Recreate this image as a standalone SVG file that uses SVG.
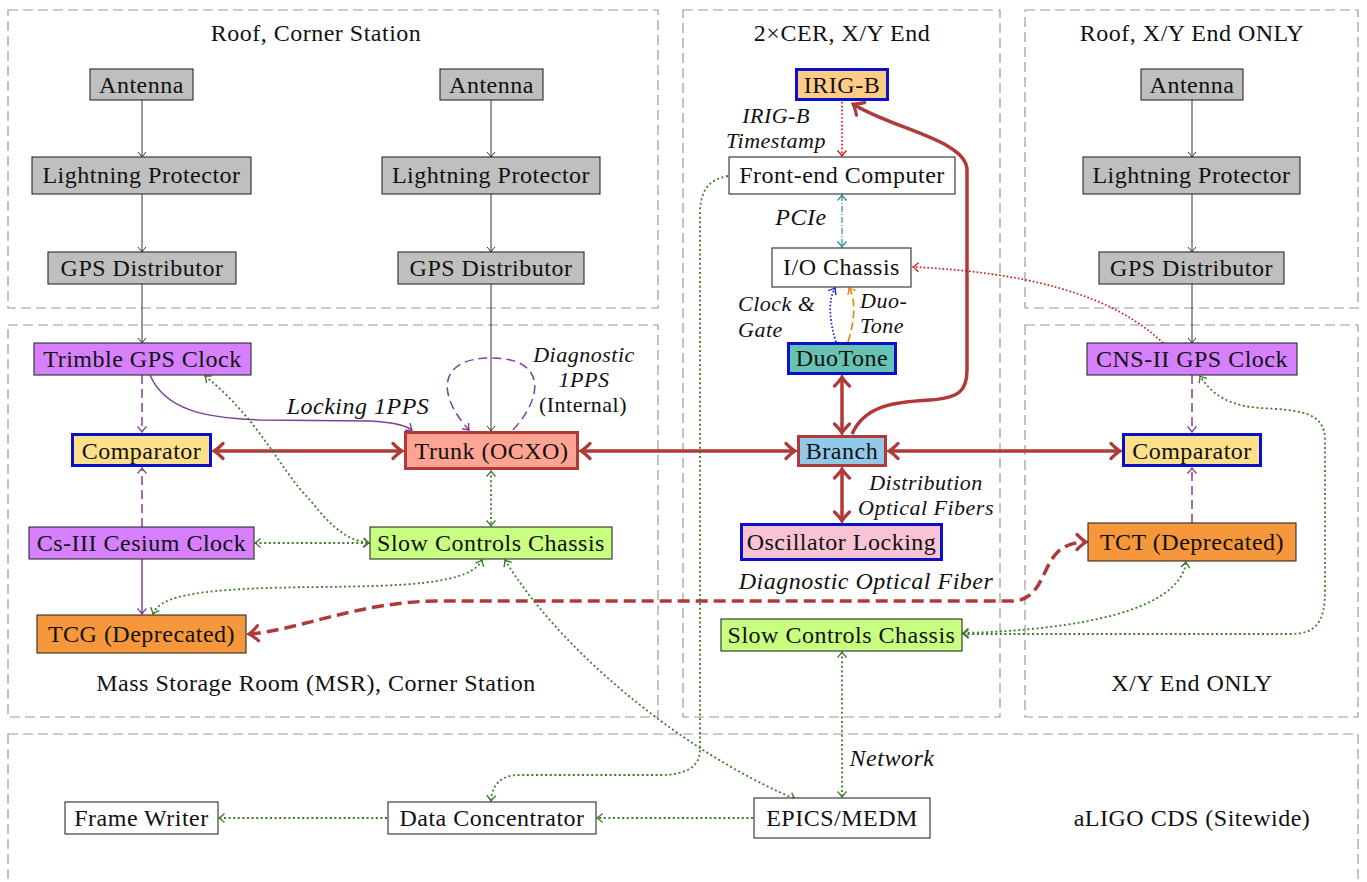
<svg xmlns="http://www.w3.org/2000/svg" width="1367" height="882" viewBox="0 0 1367 882">
<style>
.reg{fill:none;stroke:#9a9a9a;stroke-width:1.2;stroke-dasharray:10 5}
.t{font-family:"Liberation Serif","Times New Roman",serif;font-size:24px;letter-spacing:0.5px;fill:#111;text-anchor:middle}
.m{font-size:22px}
.i{font-style:italic}
.st{text-anchor:start}
.nb{stroke:#2a2a2a;stroke-width:1.1}
.tb{stroke:#0a10c8;stroke-width:3}
.tr{stroke:#b03a3a;stroke-width:3}
.gray{fill:#bfbfbf}
.purp{fill:#d680ff}
.yel{fill:#ffe08a}
.sal{fill:#ffa392}
.grn{fill:#c8ff80}
.org{fill:#f5973a}
.wht{fill:#ffffff}
.irg{fill:#ffcc88}
.duo{fill:#66c2b2}
.blu{fill:#92c8e8}
.pnk{fill:#f8c4d4}
.k{fill:none;stroke:#333;stroke-width:1;marker-end:url(#mk)}
.p{fill:none;stroke:#7e3f9a;stroke-width:1.5}
.pd{stroke-dasharray:9 5}
.r{fill:none;stroke:#b03a3a;stroke-width:3.5}
.g{fill:none;stroke:#3c7d2c;stroke-width:1.8;stroke-dasharray:2 2.6}
.gb{marker-start:url(#mg);marker-end:url(#mg)}
.ge{marker-end:url(#mg)}
</style>
<defs>
<marker id="mk" viewBox="-8 -6 10 12" refX="0" refY="0" markerWidth="10" markerHeight="12" markerUnits="userSpaceOnUse" orient="auto-start-reverse"><path d="M-5,-4 Q-1.5,-0.8 0,0 Q-1.5,0.8 -5,4" fill="none" stroke="#333" stroke-width="1"/></marker>
<marker id="mp" viewBox="-8 -6 10 12" refX="0" refY="0" markerWidth="10" markerHeight="12" markerUnits="userSpaceOnUse" orient="auto-start-reverse"><path d="M-5.5,-4.5 Q-1.5,-0.8 0,0 Q-1.5,0.8 -5.5,4.5" fill="none" stroke="#7e3f9a" stroke-width="1.4"/></marker>
<marker id="mg" viewBox="-8 -6 10 12" refX="0" refY="0" markerWidth="10" markerHeight="12" markerUnits="userSpaceOnUse" orient="auto-start-reverse"><path d="M-5.5,-4.5 Q-1.5,-0.8 0,0 Q-1.5,0.8 -5.5,4.5" fill="none" stroke="#3c7d2c" stroke-width="1.4"/></marker>
<marker id="mrd" viewBox="-8 -6 10 12" refX="0" refY="0" markerWidth="10" markerHeight="12" markerUnits="userSpaceOnUse" orient="auto-start-reverse"><path d="M-5.5,-4.5 Q-1.5,-0.8 0,0 Q-1.5,0.8 -5.5,4.5" fill="none" stroke="#e01010" stroke-width="1.4"/></marker>
<marker id="mb" viewBox="-8 -6 10 12" refX="0" refY="0" markerWidth="10" markerHeight="12" markerUnits="userSpaceOnUse" orient="auto-start-reverse"><path d="M-5.5,-4.5 Q-1.5,-0.8 0,0 Q-1.5,0.8 -5.5,4.5" fill="none" stroke="#1020d0" stroke-width="1.4"/></marker>
<marker id="mo" viewBox="-8 -6 10 12" refX="0" refY="0" markerWidth="10" markerHeight="12" markerUnits="userSpaceOnUse" orient="auto-start-reverse"><path d="M-5.5,-4.5 Q-1.5,-0.8 0,0 Q-1.5,0.8 -5.5,4.5" fill="none" stroke="#e08a10" stroke-width="1.4"/></marker>
<marker id="mt" viewBox="-8 -6 10 12" refX="0" refY="0" markerWidth="10" markerHeight="12" markerUnits="userSpaceOnUse" orient="auto-start-reverse"><path d="M-5.5,-4.5 Q-1.5,-0.8 0,0 Q-1.5,0.8 -5.5,4.5" fill="none" stroke="#2a9090" stroke-width="1.4"/></marker>
<marker id="mr" viewBox="-12 -10 14 20" refX="0" refY="0" markerWidth="14" markerHeight="20" markerUnits="userSpaceOnUse" orient="auto-start-reverse"><path d="M-9,-7.5 Q-3,-1.5 0,0 Q-3,1.5 -9,7.5" fill="none" stroke="#b03a3a" stroke-width="3.2" stroke-linecap="round"/></marker>
</defs>

<g id="regions">
<rect class="reg" x="8" y="10" width="650" height="298"/>
<rect class="reg" x="8" y="325" width="650" height="392"/>
<rect class="reg" x="683" y="10" width="317" height="707"/>
<rect class="reg" x="1025" y="10" width="333" height="298"/>
<rect class="reg" x="1025" y="325" width="333" height="392"/>
<rect class="reg" x="8" y="734" width="1350" height="170"/>
<text class="t" x="316" y="41">Roof, Corner Station</text>
<text class="t" x="842" y="41">2×CER, X/Y End</text>
<text class="t" x="1192" y="41">Roof, X/Y End ONLY</text>
<text class="t" x="316" y="691">Mass Storage Room (MSR), Corner Station</text>
<text class="t" x="1192" y="691">X/Y End ONLY</text>
<text class="t" x="1192" y="826">aLIGO CDS (Sitewide)</text>
</g>

<g id="connectors">
<path class="k" d="M142,100 V157"/>
<path class="k" d="M142,194 V252"/>
<path class="k" d="M142,284 V343"/>
<path class="k" d="M491,100 V157"/>
<path class="k" d="M491,194 V252"/>
<path class="k" d="M491,284 V431"/>
<path class="k" d="M1192,100 V157"/>
<path class="k" d="M1192,194 V252"/>
<path class="k" d="M1192,284 V343"/>

<path class="p pd" d="M142,375 V432" marker-end="url(#mp)"/>
<path class="p pd" d="M142,527 V468" marker-end="url(#mp)"/>
<path class="p" d="M142,559 V614" marker-end="url(#mp)"/>
<path class="p" d="M150,375 C165,410 205,418 260,420 L370,421 C390,422 405,425 412,430" marker-end="url(#mp)"/>
<path class="p pd" d="M513,430 C545,395 545,358 491,358 C437,358 437,395 469,430" marker-end="url(#mp)"/>
<path class="p pd" d="M1192,375 V432" marker-end="url(#mp)"/>
<path class="p pd" d="M1192,523 V468" marker-end="url(#mp)"/>

<path class="r" d="M214,451 H402" marker-start="url(#mr)" marker-end="url(#mr)"/>
<path class="r" d="M581,451 H795" marker-start="url(#mr)" marker-end="url(#mr)"/>
<path class="r" d="M889,451 H1120" marker-start="url(#mr)" marker-end="url(#mr)"/>
<path class="r" d="M842,377 V433" marker-start="url(#mr)" marker-end="url(#mr)"/>
<path class="r" d="M842,469 V521" marker-start="url(#mr)" marker-end="url(#mr)"/>
<path class="r" d="M852,434 C865,405 895,402 930,400 C960,398 967,390 967,370 L967,170 C967,140 890,128 853,104" marker-end="url(#mr)"/>
<path class="r" d="M249,634 C300,630 360,601 440,601 L1012,601 C1040,601 1042,570 1055,555 C1063,545 1075,542 1086,542" stroke-dasharray="12 6" marker-start="url(#mr)" marker-end="url(#mr)"/>

<path d="M842,102 V156" fill="none" stroke="#e01010" stroke-width="1.7" stroke-dasharray="1.6 2.2" marker-end="url(#mrd)"/>
<path d="M1163,343 C1110,292 1020,272 913,267" fill="none" stroke="#e01010" stroke-width="1.7" stroke-dasharray="1.6 2.2" marker-end="url(#mrd)"/>
<path d="M842,195 V247" fill="none" stroke="#2a9090" stroke-width="1.2" stroke-dasharray="6 2 1 2" marker-start="url(#mt)" marker-end="url(#mt)"/>
<path d="M836,342 C829,320 828,300 835,288" fill="none" stroke="#1020d0" stroke-width="1.7" stroke-dasharray="1.6 2" marker-end="url(#mb)"/>
<path d="M848,342 C855,320 856,300 849,288" fill="none" stroke="#e08a10" stroke-width="1.7" stroke-dasharray="8 4" marker-end="url(#mo)"/>

<path class="g gb" d="M205,376 C260,420 280,470 310,500 C330,525 345,540 369,543"/>
<path class="g gb" d="M255,543 H369"/>
<path class="g gb" d="M491,471 V526"/>
<path class="g gb" d="M482,560 C470,585 400,586 320,587 C200,588 160,595 153,614"/>
<path class="g gb" d="M505,560 C560,650 680,750 795,799"/>
<path class="g gb" d="M842,652 V797"/>
<path class="g gb" d="M963,633 C1080,630 1180,610 1186,562"/>
<path class="g gb" d="M963,634 L1290,634 C1318,634 1325,620 1325,590 L1325,440 C1325,412 1300,410 1260,408 C1230,406 1212,395 1200,376"/>
<path class="g ge" d="M728,176 C705,180 700,195 700,215 L700,750 C700,770 680,775 660,775 L520,775 C500,775 492,785 491,801"/>
<path class="g ge" d="M753,818 H597"/>
<path class="g ge" d="M387,818 H219"/>

<text class="t i" x="358" y="414">Locking 1PPS</text>
<text class="t m i" x="584" y="362">Diagnostic</text>
<text class="t m i" x="584" y="387">1PPS</text>
<text class="t m" x="583" y="412">(Internal)</text>
<text class="t m i" x="776" y="123">IRIG-B</text>
<text class="t m i" x="776" y="148">Timestamp</text>
<text class="t i" x="801" y="225">PCIe</text>
<text class="t m i st" x="738" y="311">Clock &amp;</text>
<text class="t m i st" x="738" y="337">Gate</text>
<text class="t m i st" x="860" y="308">Duo-</text>
<text class="t m i st" x="860" y="333">Tone</text>
<text class="t m i" x="926" y="490">Distribution</text>
<text class="t m i" x="926" y="515">Optical Fibers</text>
<text class="t i" x="866" y="589">Diagnostic Optical Fiber</text>
<text class="t i" x="892" y="766">Network</text>
</g>

<g id="antenna-cs-1"><rect class="nb gray" x="90" y="69" width="103" height="31"/><text class="t" x="141.5" y="93">Antenna</text></g>
<g id="lp-cs-1"><rect class="nb gray" x="32" y="157" width="219" height="37"/><text class="t" x="141.5" y="183">Lightning Protector</text></g>
<g id="gpsdist-cs-1"><rect class="nb gray" x="48" y="252" width="188" height="32"/><text class="t" x="142" y="276">GPS Distributor</text></g>
<g id="antenna-cs-2"><rect class="nb gray" x="440" y="69" width="103" height="31"/><text class="t" x="491.5" y="93">Antenna</text></g>
<g id="lp-cs-2"><rect class="nb gray" x="382" y="157" width="218" height="37"/><text class="t" x="491" y="183">Lightning Protector</text></g>
<g id="gpsdist-cs-2"><rect class="nb gray" x="398" y="252" width="186" height="32"/><text class="t" x="491" y="276">GPS Distributor</text></g>
<g id="antenna-end"><rect class="nb gray" x="1141" y="69" width="102" height="31"/><text class="t" x="1192" y="93">Antenna</text></g>
<g id="lp-end"><rect class="nb gray" x="1083" y="157" width="217" height="37"/><text class="t" x="1191.5" y="183">Lightning Protector</text></g>
<g id="gpsdist-end"><rect class="nb gray" x="1099" y="252" width="185" height="32"/><text class="t" x="1191.5" y="276">GPS Distributor</text></g>

<g id="trimble"><rect class="nb purp" x="34" y="343" width="217" height="32"/><text class="t" x="142.5" y="367">Trimble GPS Clock</text></g>
<g id="comparator-cs"><rect class="tb yel" x="72.5" y="434.5" width="138" height="31"/><text class="t" x="141.5" y="459">Comparator</text></g>
<g id="cesium"><rect class="nb purp" x="29" y="527" width="225" height="32"/><text class="t" x="141.5" y="551">Cs-III Cesium Clock</text></g>
<g id="tcg"><rect class="nb org" x="37" y="615" width="209" height="38"/><text class="t" x="141.5" y="642">TCG (Deprecated)</text></g>
<g id="trunk"><rect class="tr sal" x="405.5" y="432.5" width="172" height="36"/><text class="t" x="491.5" y="459">Trunk (OCXO)</text></g>
<g id="slow-controls-cs"><rect class="nb grn" x="370" y="527" width="242" height="32"/><text class="t" x="491" y="551">Slow Controls Chassis</text></g>

<g id="irig-b"><rect class="tb irg" x="796.5" y="69.5" width="91" height="30"/><text class="t" x="842" y="93">IRIG-B</text></g>
<g id="front-end"><rect class="nb wht" x="729" y="157" width="226" height="37"/><text class="t" x="842" y="183">Front-end Computer</text></g>
<g id="io-chassis"><rect class="nb wht" x="772" y="248" width="139" height="39"/><text class="t" x="841.5" y="275">I/O Chassis</text></g>
<g id="duotone"><rect class="tb duo" x="788.5" y="343.5" width="107" height="30"/><text class="t" x="842" y="366">DuoTone</text></g>
<g id="branch"><rect class="tr blu" x="798.5" y="436.5" width="87" height="29"/><text class="t" x="842" y="459">Branch</text></g>
<g id="osc-locking"><rect class="tb pnk" x="741.5" y="524.5" width="200" height="35"/><text class="t" x="841.5" y="550">Oscillator Locking</text></g>
<g id="slow-controls-end"><rect class="nb grn" x="721" y="619" width="241" height="32"/><text class="t" x="841.5" y="643">Slow Controls Chassis</text></g>

<g id="cns"><rect class="nb purp" x="1087" y="343" width="210" height="32"/><text class="t" x="1192" y="367">CNS-II GPS Clock</text></g>
<g id="comparator-end"><rect class="tb yel" x="1123.5" y="434.5" width="137" height="31"/><text class="t" x="1192" y="459">Comparator</text></g>
<g id="tct"><rect class="nb org" x="1088" y="523" width="208" height="38"/><text class="t" x="1192" y="550">TCT (Deprecated)</text></g>

<g id="frame-writer"><rect class="nb wht" x="65" y="802" width="153" height="32"/><text class="t" x="141.5" y="826">Frame Writer</text></g>
<g id="data-concentrator"><rect class="nb wht" x="388" y="802" width="208" height="32"/><text class="t" x="492" y="826">Data Concentrator</text></g>
<g id="epics"><rect class="nb wht" x="754" y="798" width="176" height="40"/><text class="t" x="842" y="826">EPICS/MEDM</text></g>
</svg>
